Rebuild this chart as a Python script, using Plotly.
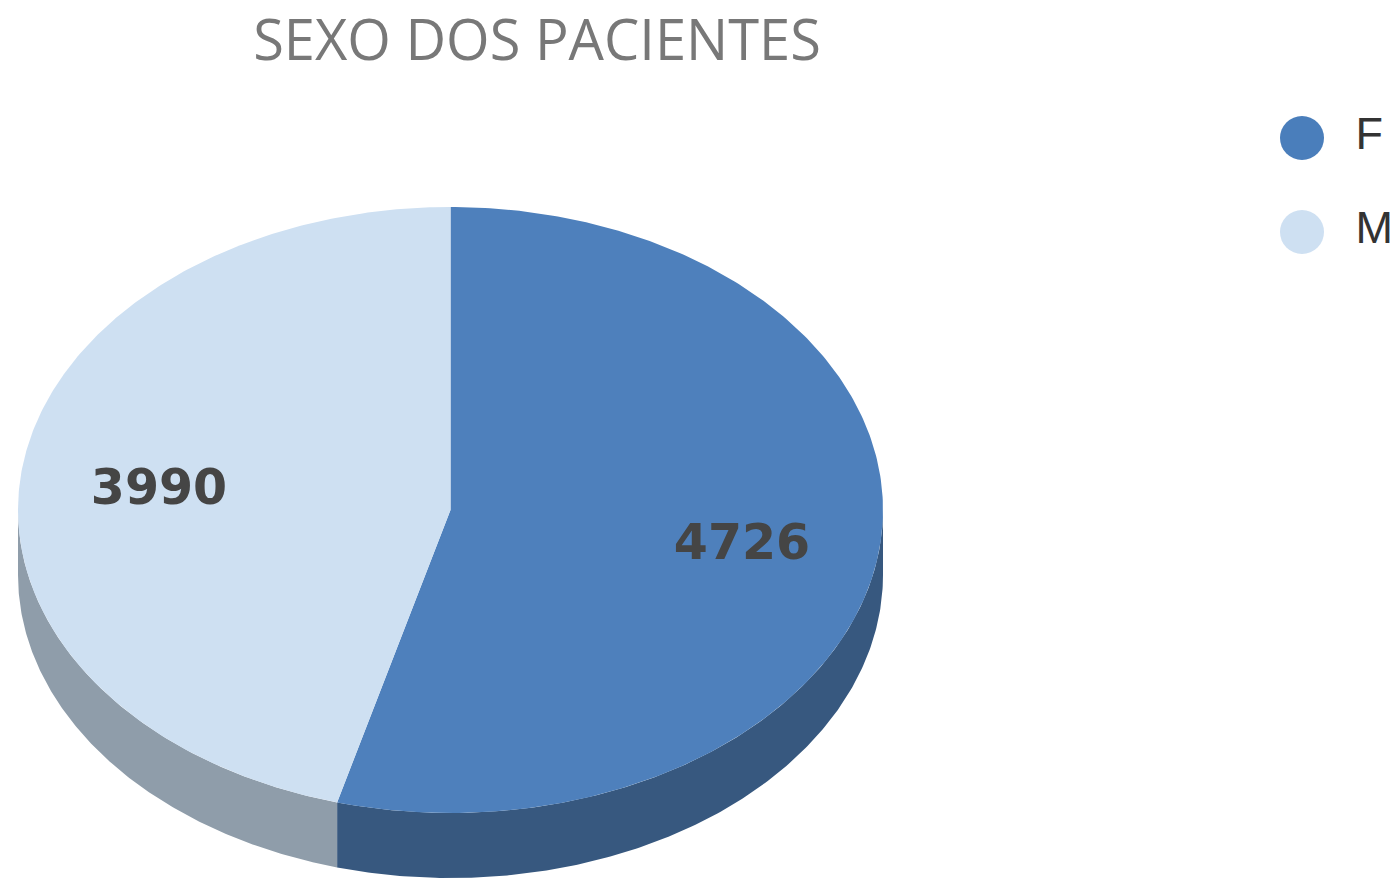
import numpy as np
import plotly.graph_objects as go

# ---- data ----
categories = ["F", "M"]
values = [4726, 3990]
title_text = "SEXO DOS PACIENTES"

# ---- style ----
top_colors = {"F": "#4E80BC", "M": "#CEE0F2"}
side_colors = {"F": "#37587F", "M": "#8F9DAA"}
legend_colors = {"F": "#4A7EBB", "M": "#CEE0F2"}
W, H = 1399, 879
cx, cy, rx, ry, depth = 450.5, 510.0, 432.5, 303.0, 65.0
label_r = 0.68


def pt(theta_deg, dy=0.0):
    t = np.radians(theta_deg)
    return cx + rx * np.sin(t), cy - ry * np.cos(t) + dy


total = float(sum(values))
starts, ends = [], []
acc = 0.0
for v in values:
    starts.append(acc / total * 360.0)
    acc += v
    ends.append(acc / total * 360.0)

fig = go.Figure()

# side walls (only the front half, 90..270 deg)
for cat, a, b in zip(categories, starts, ends):
    lo, hi = max(a, 90.0), min(b, 270.0)
    if hi <= lo:
        continue
    th = np.linspace(lo, hi, 200)
    xt, yt = pt(th)
    xb, yb = pt(th[::-1], depth)
    fig.add_trace(go.Scatter(
        x=np.concatenate([xt, xb, xt[:1]]), y=np.concatenate([yt, yb, yt[:1]]),
        mode="lines", fill="toself", fillcolor=side_colors[cat],
        line=dict(width=0, color=side_colors[cat]), hoverinfo="skip", showlegend=False))

# top faces
for cat, a, b, v in zip(categories, starts, ends, values):
    th = np.linspace(a, b, 300)
    xs, ys = pt(th)
    fig.add_trace(go.Scatter(
        x=np.concatenate([[cx], xs, [cx]]), y=np.concatenate([[cy], ys, [cy]]),
        mode="lines", fill="toself", fillcolor=top_colors[cat],
        line=dict(width=0, color=top_colors[cat]), name=cat,
        hoverinfo="text", text=f"{cat}: {v}", showlegend=False))

# value labels
for cat, a, b, v in zip(categories, starts, ends, values):
    mid = (a + b) / 2.0
    t = np.radians(mid)
    lx = cx + rx * label_r * np.sin(t)
    ly = cy - ry * label_r * np.cos(t) + 9
    fig.add_trace(go.Scatter(
        x=[lx], y=[ly], mode="text", text=[str(v)],
        textfont=dict(family="DejaVu Sans", size=49, color="#454545", weight="bold"),
        textposition="middle center", hoverinfo="skip", showlegend=False))

# legend (manual)
leg_x, leg_y0, leg_dy = 1302, 138, 94
for i, cat in enumerate(categories):
    fig.add_trace(go.Scatter(
        x=[leg_x], y=[leg_y0 + i * leg_dy], mode="markers+text",
        marker=dict(size=44, color=legend_colors[cat], line=dict(width=0)),
        text=["  " + cat], textposition="middle right",
        textfont=dict(family="Liberation Sans", size=45, color="#333333"),
        hoverinfo="skip", showlegend=False, cliponaxis=False))

fig.update_layout(
    width=W, height=H,
    margin=dict(l=0, r=0, t=0, b=0),
    paper_bgcolor="white", plot_bgcolor="white",
    xaxis=dict(range=[0, W], visible=False, fixedrange=True),
    yaxis=dict(range=[H, 0], visible=False, fixedrange=True),
    title=dict(text=title_text, x=537 / W, xanchor="center",
               y=1 - 40 / H, yanchor="middle",
               font=dict(family="Open Sans", size=56, color="#787878")),
    showlegend=False,
)

fig.write_html("out.html", config={"displayModeBar": False},
               post_script="document.body.style.margin='0px';document.body.style.overflow='hidden';")
